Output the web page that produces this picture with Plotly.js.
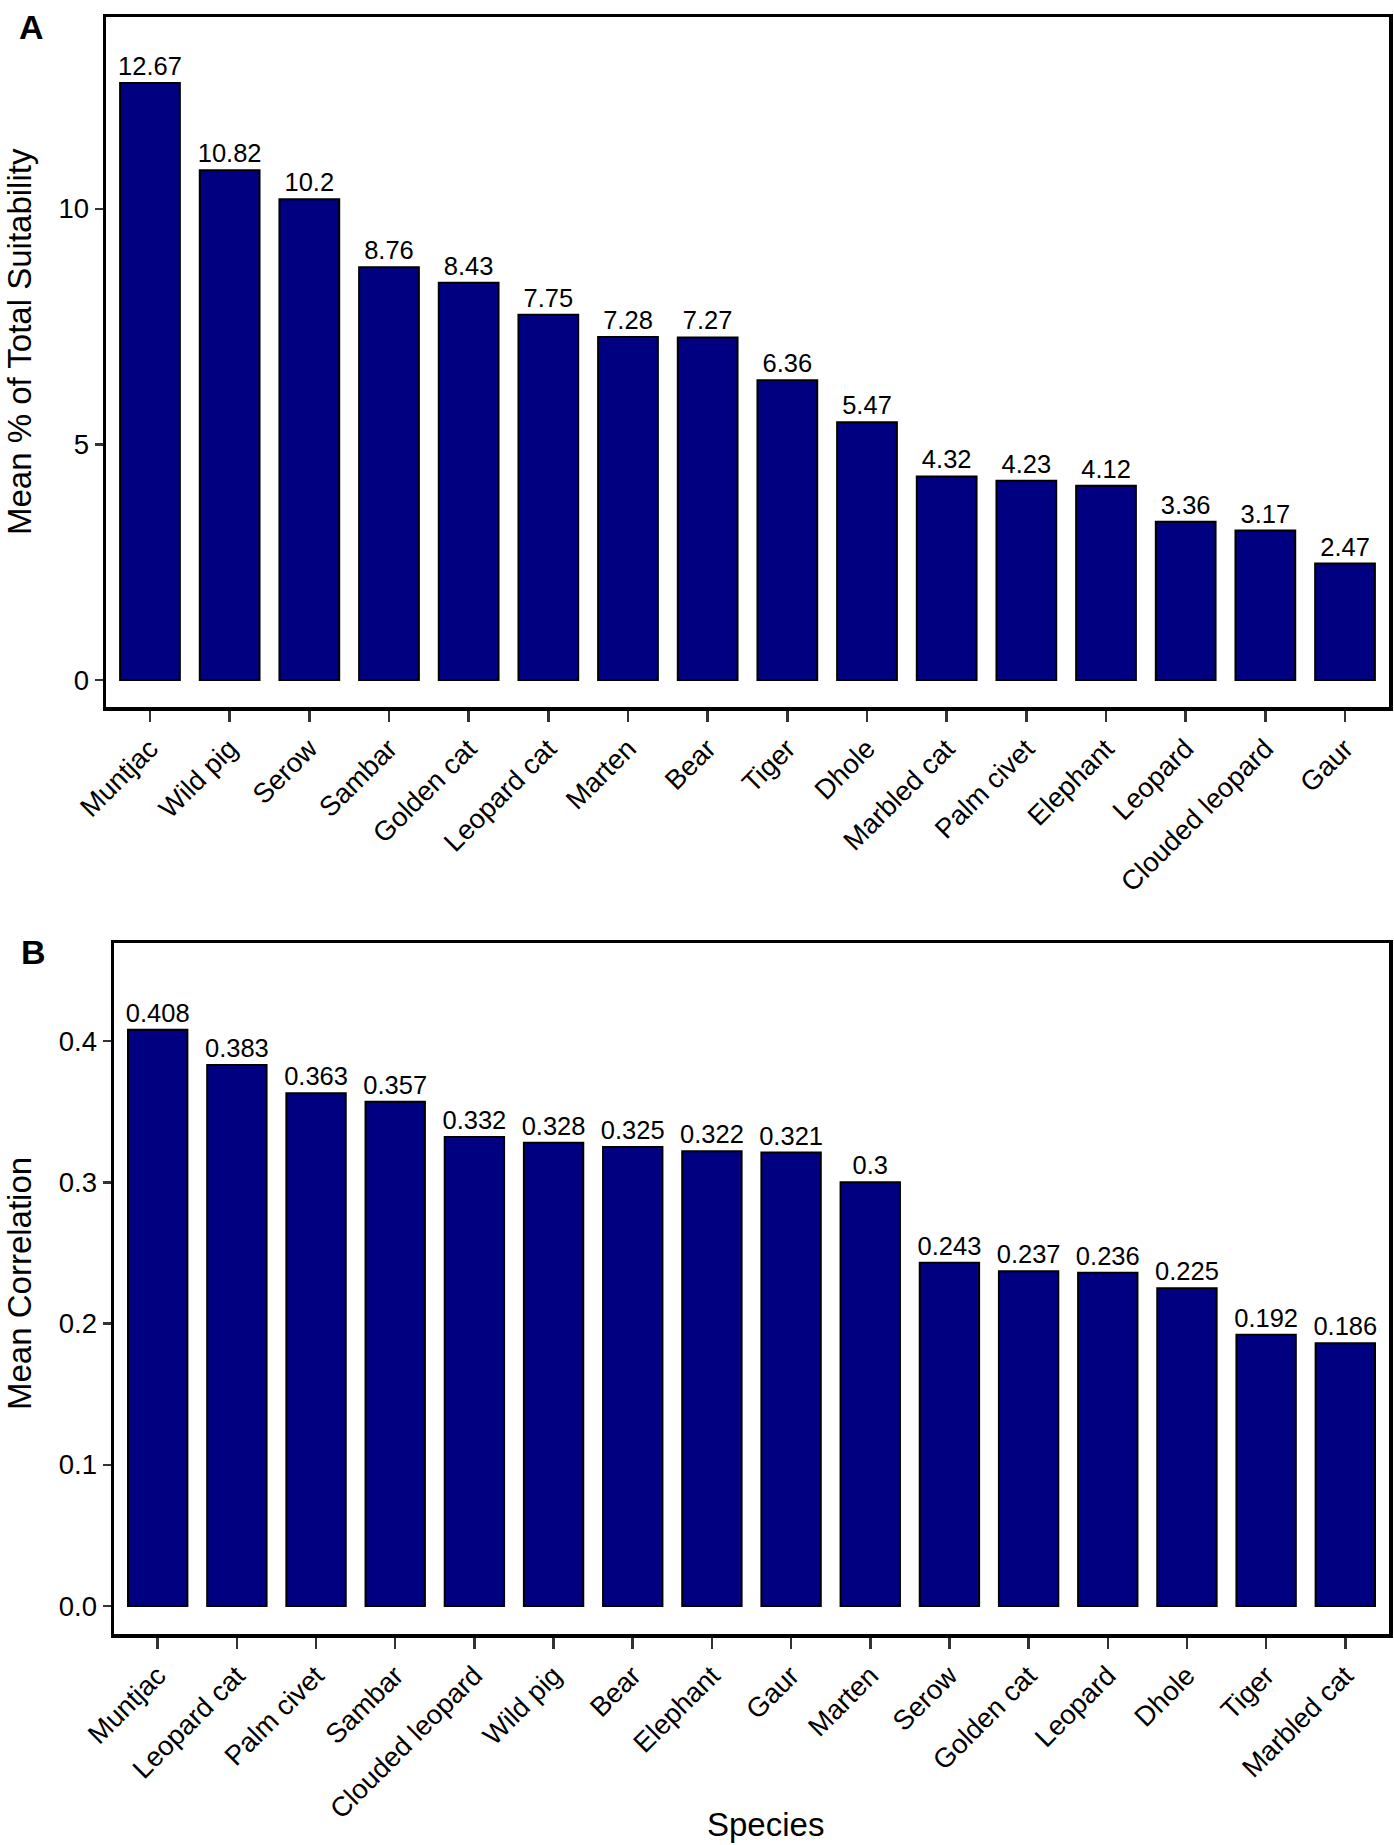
<!DOCTYPE html>
<html>
<head>
<meta charset="utf-8">
<script src="https://cdn.plot.ly/plotly-3.0.1.min.js"></script>
<style>html,body{margin:0;padding:0;background:#fff;}#chart{width:1394px;height:1845px;}</style>
</head>
<body>
<div id="chart"></div>
<script>
// Panel A data
const speciesA = ["Muntjac","Wild pig","Serow","Sambar","Golden cat","Leopard cat","Marten","Bear","Tiger","Dhole","Marbled cat","Palm civet","Elephant","Leopard","Clouded leopard","Gaur"];
const suitabilityA = [12.67,10.82,10.2,8.76,8.43,7.75,7.28,7.27,6.36,5.47,4.32,4.23,4.12,3.36,3.17,2.47];
const ticksA = [0,5,10];
const tickTextA = ["0","5","10"];

// Panel B data
const speciesB = ["Muntjac","Leopard cat","Palm civet","Sambar","Clouded leopard","Wild pig","Bear","Elephant","Gaur","Marten","Serow","Golden cat","Leopard","Dhole","Tiger","Marbled cat"];
const correlationB = [0.408,0.383,0.363,0.357,0.332,0.328,0.325,0.322,0.321,0.3,0.243,0.237,0.236,0.225,0.192,0.186];
const ticksB = [0,0.1,0.2,0.3,0.4];
const tickTextB = ["0.0","0.1","0.2","0.3","0.4"];

const FONT = "Liberation Sans, Arial, Helvetica, sans-serif";
const W = 1394, H = 1845;
const px = v => v / W;
const py = v => (H - v) / H;

const barStyle = {
  type: "bar",
  width: 0.75,
  marker: {color: "#000080", line: {color: "#000000", width: 2}},
  textposition: "outside",
  constraintext: "none",
  cliponaxis: false,
  textangle: 0,
  textfont: {family: FONT, size: 25.5, color: "#000000"},
  hoverinfo: "none"
};

const traceA = Object.assign({}, barStyle, {
  x: speciesA, y: suitabilityA, text: suitabilityA.map(String),
  xaxis: "x", yaxis: "y"
});
const traceB = Object.assign({}, barStyle, {
  x: speciesB, y: correlationB, text: correlationB.map(String),
  xaxis: "x2", yaxis: "y2"
});

const xCommon = {
  type: "category",
  range: [-0.552, 15.552],
  showline: true, mirror: true, linecolor: "#000000", linewidth: 3.5,
  ticks: "outside", ticklen: 11, tickwidth: 2.5, tickcolor: "#333333",
  tickangle: -45,
  tickfont: {family: FONT, size: 27.5, color: "#000000"},
  showgrid: false, zeroline: false, automargin: false, fixedrange: true
};
const yCommon = {
  showline: true, mirror: true, linecolor: "#000000", linewidth: 3.5,
  ticks: "outside", ticklen: 8, tickwidth: 2.5, tickcolor: "#333333",
  tickfont: {family: FONT, size: 27.5, color: "#000000"},
  tickmode: "array",
  showgrid: false, zeroline: false, automargin: false, fixedrange: true
};

const layout = {
  width: W, height: H,
  margin: {l: 0, r: 0, t: 0, b: 0, pad: 0},
  paper_bgcolor: "#ffffff", plot_bgcolor: "#ffffff",
  showlegend: false,
  font: {family: FONT, color: "#000000"},
  xaxis: Object.assign({}, xCommon, {domain: [px(106), px(1389)], anchor: "y", categoryarray: speciesA, categoryorder: "array"}),
  yaxis: Object.assign({}, yCommon, {domain: [py(707), py(17)], anchor: "x", range: [-0.573, 14.07], tickvals: ticksA, ticktext: tickTextA}),
  xaxis2: Object.assign({}, xCommon, {domain: [px(114), px(1389)], anchor: "y2", categoryarray: speciesB, categoryorder: "array"}),
  yaxis2: Object.assign({}, yCommon, {domain: [py(1634), py(943)], anchor: "x2", range: [-0.0198, 0.4694], tickvals: ticksB, ticktext: tickTextB}),
  annotations: [
    {text: "A", xref: "paper", yref: "paper", x: px(31.5), y: py(27), xanchor: "center", yanchor: "middle", showarrow: false, font: {family: FONT, size: 34, color: "#000000", weight: "bold"}},
    {text: "B", xref: "paper", yref: "paper", x: px(33), y: py(952), xanchor: "center", yanchor: "middle", showarrow: false, font: {family: FONT, size: 34, color: "#000000", weight: "bold"}},
    {text: "Mean % of Total Suitability", xref: "paper", yref: "paper", x: px(19), y: py(342), textangle: -90, xanchor: "center", yanchor: "middle", showarrow: false, font: {family: FONT, size: 33, color: "#000000"}},
    {text: "Mean Correlation", xref: "paper", yref: "paper", x: px(19), y: py(1284), textangle: -90, xanchor: "center", yanchor: "middle", showarrow: false, font: {family: FONT, size: 33, color: "#000000"}},
    {text: "Species", xref: "paper", yref: "paper", x: px(766), y: py(1824), xanchor: "center", yanchor: "middle", showarrow: false, font: {family: FONT, size: 33, color: "#000000"}}
  ]
};

Plotly.newPlot("chart", [traceA, traceB], layout, {displayModeBar: false, staticPlot: true});
</script>
</body>
</html>
